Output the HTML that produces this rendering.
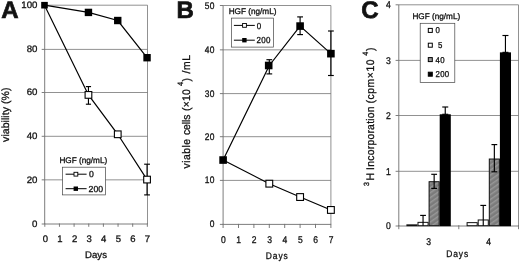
<!DOCTYPE html>
<html><head><meta charset="utf-8"><title>Figure</title>
<style>
html,body{margin:0;padding:0;background:#fff;}
body{width:520px;height:262px;overflow:hidden;}
#w{will-change:transform;width:520px;height:262px;}
svg{display:block;font-family:"Liberation Sans",sans-serif;fill:#000;text-rendering:geometricPrecision;}
svg text{fill:#111;}
</style></head><body>
<div id="w"><svg width="520" height="262" viewBox="0 0 520 262">
<rect width="520" height="262" fill="#fff"/>
<line x1="44.70" y1="179.85" x2="147.50" y2="179.85" stroke="#6c6c6c" stroke-width="0.75" />
<line x1="44.70" y1="136.30" x2="147.50" y2="136.30" stroke="#6c6c6c" stroke-width="0.75" />
<line x1="44.70" y1="92.50" x2="147.50" y2="92.50" stroke="#6c6c6c" stroke-width="0.75" />
<line x1="44.70" y1="49.40" x2="147.50" y2="49.40" stroke="#6c6c6c" stroke-width="0.75" />
<line x1="44.70" y1="5.20" x2="147.50" y2="5.20" stroke="#6c6c6c" stroke-width="0.75" />
<line x1="147.50" y1="5.20" x2="147.50" y2="224.00" stroke="#6c6c6c" stroke-width="0.75" />
<line x1="44.70" y1="5.20" x2="44.70" y2="224.00" stroke="#6e6e6e" stroke-width="0.9" />
<line x1="44.70" y1="224.00" x2="147.50" y2="224.00" stroke="#6e6e6e" stroke-width="0.9" />
<line x1="41.70" y1="224.00" x2="44.70" y2="224.00" stroke="#6e6e6e" stroke-width="0.9" />
<text transform="translate(37.40,226.90) scale(1.03,1)" font-size="9.4" text-anchor="end" font-weight="normal" letter-spacing="0" stroke="#111" stroke-width="0.3" >0</text>
<line x1="41.70" y1="179.85" x2="44.70" y2="179.85" stroke="#6e6e6e" stroke-width="0.9" />
<text transform="translate(37.40,182.75) scale(1.03,1)" font-size="9.4" text-anchor="end" font-weight="normal" letter-spacing="0" stroke="#111" stroke-width="0.3" >20</text>
<line x1="41.70" y1="136.30" x2="44.70" y2="136.30" stroke="#6e6e6e" stroke-width="0.9" />
<text transform="translate(37.40,139.20) scale(1.03,1)" font-size="9.4" text-anchor="end" font-weight="normal" letter-spacing="0" stroke="#111" stroke-width="0.3" >40</text>
<line x1="41.70" y1="92.50" x2="44.70" y2="92.50" stroke="#6e6e6e" stroke-width="0.9" />
<text transform="translate(37.40,95.40) scale(1.03,1)" font-size="9.4" text-anchor="end" font-weight="normal" letter-spacing="0" stroke="#111" stroke-width="0.3" >60</text>
<line x1="41.70" y1="49.40" x2="44.70" y2="49.40" stroke="#6e6e6e" stroke-width="0.9" />
<text transform="translate(37.40,52.30) scale(1.03,1)" font-size="9.4" text-anchor="end" font-weight="normal" letter-spacing="0" stroke="#111" stroke-width="0.3" >80</text>
<line x1="41.70" y1="5.20" x2="44.70" y2="5.20" stroke="#6e6e6e" stroke-width="0.9" />
<text transform="translate(37.40,8.10) scale(1.03,1)" font-size="9.4" text-anchor="end" font-weight="normal" letter-spacing="0" stroke="#111" stroke-width="0.3" >100</text>
<line x1="44.80" y1="223.50" x2="44.80" y2="226.80" stroke="#6e6e6e" stroke-width="0.9" />
<text transform="translate(45.40,241.60) scale(1.0,1)" font-size="9.5" text-anchor="middle" font-weight="normal" letter-spacing="0" stroke="#111" stroke-width="0.3" >0</text>
<line x1="59.45" y1="223.50" x2="59.45" y2="226.80" stroke="#6e6e6e" stroke-width="0.9" />
<text transform="translate(59.98,241.60) scale(1.0,1)" font-size="9.5" text-anchor="middle" font-weight="normal" letter-spacing="0" stroke="#111" stroke-width="0.3" >1</text>
<line x1="74.10" y1="223.50" x2="74.10" y2="226.80" stroke="#6e6e6e" stroke-width="0.9" />
<text transform="translate(74.56,241.60) scale(1.0,1)" font-size="9.5" text-anchor="middle" font-weight="normal" letter-spacing="0" stroke="#111" stroke-width="0.3" >2</text>
<line x1="88.75" y1="223.50" x2="88.75" y2="226.80" stroke="#6e6e6e" stroke-width="0.9" />
<text transform="translate(89.14,241.60) scale(1.0,1)" font-size="9.5" text-anchor="middle" font-weight="normal" letter-spacing="0" stroke="#111" stroke-width="0.3" >3</text>
<line x1="103.40" y1="223.50" x2="103.40" y2="226.80" stroke="#6e6e6e" stroke-width="0.9" />
<text transform="translate(103.72,241.60) scale(1.0,1)" font-size="9.5" text-anchor="middle" font-weight="normal" letter-spacing="0" stroke="#111" stroke-width="0.3" >4</text>
<line x1="118.05" y1="223.50" x2="118.05" y2="226.80" stroke="#6e6e6e" stroke-width="0.9" />
<text transform="translate(118.30,241.60) scale(1.0,1)" font-size="9.5" text-anchor="middle" font-weight="normal" letter-spacing="0" stroke="#111" stroke-width="0.3" >5</text>
<line x1="132.70" y1="223.50" x2="132.70" y2="226.80" stroke="#6e6e6e" stroke-width="0.9" />
<text transform="translate(132.88,241.60) scale(1.0,1)" font-size="9.5" text-anchor="middle" font-weight="normal" letter-spacing="0" stroke="#111" stroke-width="0.3" >6</text>
<line x1="147.35" y1="223.50" x2="147.35" y2="226.80" stroke="#6e6e6e" stroke-width="0.9" />
<text transform="translate(147.46,241.60) scale(1.0,1)" font-size="9.5" text-anchor="middle" font-weight="normal" letter-spacing="0" stroke="#111" stroke-width="0.3" >7</text>
<text transform="translate(96.00,258.20) scale(1.0,1)" font-size="9.6" text-anchor="middle" font-weight="normal" letter-spacing="0" stroke="#111" stroke-width="0.3" >Days</text>
<text transform="translate(9.20,141.90) rotate(-90) scale(1.0,1)" font-size="10.5" text-anchor="start" letter-spacing="0" textLength="54.30" lengthAdjust="spacing" stroke="#111" stroke-width="0.3">viability (%)</text>
<text transform="translate(1.20,18.00) scale(1.0,1)" font-size="24" text-anchor="start" font-weight="bold" letter-spacing="0" stroke="#111" stroke-width="0.7" >A</text>
<polyline fill="none" stroke="#000" stroke-width="1.2" points="44.50,5.20 88.45,12.42 117.75,20.52 147.05,57.71"/>
<polyline fill="none" stroke="#000" stroke-width="1.2" points="44.50,5.20 88.45,94.91 117.75,134.29 147.05,179.58"/>
<line x1="88.45" y1="86.60" x2="88.45" y2="104.20" stroke="#000" stroke-width="1.15" />
<line x1="85.85" y1="86.60" x2="91.05" y2="86.60" stroke="#000" stroke-width="1.15" />
<line x1="85.85" y1="104.20" x2="91.05" y2="104.20" stroke="#000" stroke-width="1.15" />
<line x1="147.05" y1="164.20" x2="147.05" y2="194.90" stroke="#000" stroke-width="1.15" />
<line x1="144.15" y1="164.20" x2="149.95" y2="164.20" stroke="#000" stroke-width="1.15" />
<line x1="144.15" y1="194.90" x2="149.95" y2="194.90" stroke="#000" stroke-width="1.15" />
<rect x="85.10" y="91.56" width="6.70" height="6.70" fill="#fff" stroke="#000" stroke-width="1.1" />
<rect x="114.40" y="130.94" width="6.70" height="6.70" fill="#fff" stroke="#000" stroke-width="1.1" />
<rect x="143.70" y="176.23" width="6.70" height="6.70" fill="#fff" stroke="#000" stroke-width="1.1" />
<rect x="41.20" y="1.90" width="6.60" height="6.60" fill="#000" stroke="none" stroke-width="1" />
<rect x="84.75" y="8.72" width="7.40" height="7.40" fill="#000" stroke="none" stroke-width="1" />
<rect x="114.05" y="16.82" width="7.40" height="7.40" fill="#000" stroke="none" stroke-width="1" />
<rect x="143.35" y="54.01" width="7.40" height="7.40" fill="#000" stroke="none" stroke-width="1" />
<text transform="translate(59.40,163.30) scale(1.0,1)" font-size="8.2" text-anchor="start" font-weight="normal" letter-spacing="0" stroke="#111" stroke-width="0.3" >HGF (ng/mL)</text>
<rect x="62.60" y="167.20" width="43.00" height="27.70" fill="#fff" stroke="#444" stroke-width="0.7" />
<line x1="65.60" y1="174.20" x2="86.60" y2="174.20" stroke="#000" stroke-width="1" />
<rect x="74.00" y="172.30" width="3.80" height="3.80" fill="#fff" stroke="#000" stroke-width="0.9" />
<text transform="translate(89.00,177.30) scale(1.0,1)" font-size="8.7" text-anchor="start" font-weight="normal" letter-spacing="0" stroke="#111" stroke-width="0.3" >0</text>
<line x1="65.60" y1="188.70" x2="86.60" y2="188.70" stroke="#000" stroke-width="1" />
<rect x="73.60" y="186.50" width="4.40" height="4.40" fill="#000" stroke="none" stroke-width="1" />
<text transform="translate(88.60,191.80) scale(1.0,1)" font-size="8.7" text-anchor="start" font-weight="normal" letter-spacing="0" stroke="#111" stroke-width="0.3" >200</text>
<line x1="223.10" y1="180.40" x2="330.90" y2="180.40" stroke="#6c6c6c" stroke-width="0.75" />
<line x1="223.10" y1="136.70" x2="330.90" y2="136.70" stroke="#6c6c6c" stroke-width="0.75" />
<line x1="223.10" y1="93.60" x2="330.90" y2="93.60" stroke="#6c6c6c" stroke-width="0.75" />
<line x1="223.10" y1="49.85" x2="330.90" y2="49.85" stroke="#6c6c6c" stroke-width="0.75" />
<line x1="223.10" y1="5.50" x2="330.90" y2="5.50" stroke="#6c6c6c" stroke-width="0.75" />
<line x1="330.90" y1="5.50" x2="330.90" y2="224.40" stroke="#6c6c6c" stroke-width="0.75" />
<line x1="223.10" y1="5.50" x2="223.10" y2="224.40" stroke="#6e6e6e" stroke-width="0.9" />
<line x1="223.10" y1="224.40" x2="330.90" y2="224.40" stroke="#6e6e6e" stroke-width="0.9" />
<line x1="219.90" y1="224.40" x2="223.10" y2="224.40" stroke="#6e6e6e" stroke-width="0.9" />
<text transform="translate(214.90,227.40) scale(0.88,1)" font-size="9.6" text-anchor="end" font-weight="normal" letter-spacing="0.4" stroke="#111" stroke-width="0.3" >0</text>
<line x1="219.90" y1="180.40" x2="223.10" y2="180.40" stroke="#6e6e6e" stroke-width="0.9" />
<text transform="translate(214.90,183.40) scale(0.88,1)" font-size="9.6" text-anchor="end" font-weight="normal" letter-spacing="0.4" stroke="#111" stroke-width="0.3" >10</text>
<line x1="219.90" y1="136.70" x2="223.10" y2="136.70" stroke="#6e6e6e" stroke-width="0.9" />
<text transform="translate(214.90,139.70) scale(0.88,1)" font-size="9.6" text-anchor="end" font-weight="normal" letter-spacing="0.4" stroke="#111" stroke-width="0.3" >20</text>
<line x1="219.90" y1="93.60" x2="223.10" y2="93.60" stroke="#6e6e6e" stroke-width="0.9" />
<text transform="translate(214.90,96.60) scale(0.88,1)" font-size="9.6" text-anchor="end" font-weight="normal" letter-spacing="0.4" stroke="#111" stroke-width="0.3" >30</text>
<line x1="219.90" y1="49.85" x2="223.10" y2="49.85" stroke="#6e6e6e" stroke-width="0.9" />
<text transform="translate(214.90,52.85) scale(0.88,1)" font-size="9.6" text-anchor="end" font-weight="normal" letter-spacing="0.4" stroke="#111" stroke-width="0.3" >40</text>
<line x1="219.90" y1="5.50" x2="223.10" y2="5.50" stroke="#6e6e6e" stroke-width="0.9" />
<text transform="translate(214.90,8.50) scale(0.88,1)" font-size="9.6" text-anchor="end" font-weight="normal" letter-spacing="0.4" stroke="#111" stroke-width="0.3" >50</text>
<line x1="223.10" y1="223.90" x2="223.10" y2="228.00" stroke="#6e6e6e" stroke-width="0.9" />
<text transform="translate(223.30,243.00) scale(0.88,1)" font-size="9.7" text-anchor="middle" font-weight="normal" letter-spacing="0" stroke="#111" stroke-width="0.3" >0</text>
<line x1="238.50" y1="223.90" x2="238.50" y2="228.00" stroke="#6e6e6e" stroke-width="0.9" />
<text transform="translate(238.70,243.00) scale(0.88,1)" font-size="9.7" text-anchor="middle" font-weight="normal" letter-spacing="0" stroke="#111" stroke-width="0.3" >1</text>
<line x1="253.90" y1="223.90" x2="253.90" y2="228.00" stroke="#6e6e6e" stroke-width="0.9" />
<text transform="translate(254.10,243.00) scale(0.88,1)" font-size="9.7" text-anchor="middle" font-weight="normal" letter-spacing="0" stroke="#111" stroke-width="0.3" >2</text>
<line x1="269.30" y1="223.90" x2="269.30" y2="228.00" stroke="#6e6e6e" stroke-width="0.9" />
<text transform="translate(269.50,243.00) scale(0.88,1)" font-size="9.7" text-anchor="middle" font-weight="normal" letter-spacing="0" stroke="#111" stroke-width="0.3" >3</text>
<line x1="284.70" y1="223.90" x2="284.70" y2="228.00" stroke="#6e6e6e" stroke-width="0.9" />
<text transform="translate(284.90,243.00) scale(0.88,1)" font-size="9.7" text-anchor="middle" font-weight="normal" letter-spacing="0" stroke="#111" stroke-width="0.3" >4</text>
<line x1="300.10" y1="223.90" x2="300.10" y2="228.00" stroke="#6e6e6e" stroke-width="0.9" />
<text transform="translate(300.30,243.00) scale(0.88,1)" font-size="9.7" text-anchor="middle" font-weight="normal" letter-spacing="0" stroke="#111" stroke-width="0.3" >5</text>
<line x1="315.50" y1="223.90" x2="315.50" y2="228.00" stroke="#6e6e6e" stroke-width="0.9" />
<text transform="translate(315.70,243.00) scale(0.88,1)" font-size="9.7" text-anchor="middle" font-weight="normal" letter-spacing="0" stroke="#111" stroke-width="0.3" >6</text>
<line x1="330.90" y1="223.90" x2="330.90" y2="228.00" stroke="#6e6e6e" stroke-width="0.9" />
<text transform="translate(331.10,243.00) scale(0.88,1)" font-size="9.7" text-anchor="middle" font-weight="normal" letter-spacing="0" stroke="#111" stroke-width="0.3" >7</text>
<text transform="translate(277.20,259.10) scale(0.88,1)" font-size="9.6" text-anchor="middle" font-weight="normal" letter-spacing="1.0" stroke="#111" stroke-width="0.3" >Days</text>
<text transform="translate(189.60,168.40) rotate(-90) scale(0.94,1)" font-size="11" text-anchor="start" textLength="31.28" lengthAdjust="spacing" stroke="#111" stroke-width="0.3">viable</text>
<text transform="translate(189.60,135.10) rotate(-90) scale(0.94,1)" font-size="11" text-anchor="start" textLength="21.91" lengthAdjust="spacing" stroke="#111" stroke-width="0.3">cells</text>
<text transform="translate(189.60,110.90) rotate(-90) scale(0.94,1)" font-size="11" text-anchor="start" textLength="22.98" lengthAdjust="spacing" stroke="#111" stroke-width="0.3">(×10</text>
<text transform="translate(183.40,86.10) rotate(-90) scale(0.94,1)" font-size="7.8" text-anchor="start"  stroke="#111" stroke-width="0.3">4</text>
<text transform="translate(189.60,81.40) rotate(-90) scale(0.94,1)" font-size="11" text-anchor="start"  stroke="#111" stroke-width="0.3">)</text>
<text transform="translate(189.60,73.50) rotate(-90) scale(0.94,1)" font-size="11" text-anchor="start" textLength="19.79" lengthAdjust="spacing" stroke="#111" stroke-width="0.3">/mL</text>
<text transform="translate(176.40,18.00) scale(1.0,1)" font-size="24" text-anchor="start" font-weight="bold" letter-spacing="0" stroke="#111" stroke-width="0.7" >B</text>
<polyline fill="none" stroke="#000" stroke-width="1.2" points="223.10,160.04 269.30,65.48 300.10,26.08 330.90,53.66"/>
<polyline fill="none" stroke="#000" stroke-width="1.2" points="223.10,160.04 269.30,183.68 300.10,197.04 330.90,209.95"/>
<line x1="269.30" y1="59.70" x2="269.30" y2="73.90" stroke="#000" stroke-width="1.15" />
<line x1="266.40" y1="59.70" x2="272.20" y2="59.70" stroke="#000" stroke-width="1.15" />
<line x1="266.40" y1="73.90" x2="272.20" y2="73.90" stroke="#000" stroke-width="1.15" />
<line x1="300.10" y1="16.90" x2="300.10" y2="34.60" stroke="#000" stroke-width="1.15" />
<line x1="297.20" y1="16.90" x2="303.00" y2="16.90" stroke="#000" stroke-width="1.15" />
<line x1="297.20" y1="34.60" x2="303.00" y2="34.60" stroke="#000" stroke-width="1.15" />
<line x1="330.90" y1="31.00" x2="330.90" y2="75.50" stroke="#000" stroke-width="1.15" />
<line x1="328.00" y1="31.00" x2="333.80" y2="31.00" stroke="#000" stroke-width="1.15" />
<line x1="328.00" y1="75.50" x2="333.80" y2="75.50" stroke="#000" stroke-width="1.15" />
<rect x="265.90" y="180.28" width="6.80" height="6.80" fill="#fff" stroke="#000" stroke-width="1.1" />
<rect x="296.70" y="193.64" width="6.80" height="6.80" fill="#fff" stroke="#000" stroke-width="1.1" />
<rect x="327.50" y="206.55" width="6.80" height="6.80" fill="#fff" stroke="#000" stroke-width="1.1" />
<rect x="219.30" y="156.24" width="7.60" height="7.60" fill="#000" stroke="none" stroke-width="1" />
<rect x="264.90" y="61.68" width="7.60" height="7.60" fill="#000" stroke="none" stroke-width="1" />
<rect x="296.30" y="22.28" width="7.60" height="7.60" fill="#000" stroke="none" stroke-width="1" />
<rect x="327.10" y="49.86" width="7.60" height="7.60" fill="#000" stroke="none" stroke-width="1" />
<text transform="translate(228.70,13.90) scale(1.0,1)" font-size="8.2" text-anchor="start" font-weight="normal" letter-spacing="0" stroke="#111" stroke-width="0.3" >HGF (ng/mL)</text>
<rect x="231.40" y="18.10" width="42.00" height="29.00" fill="#fff" stroke="#444" stroke-width="0.7" />
<line x1="233.90" y1="25.40" x2="254.80" y2="25.40" stroke="#000" stroke-width="1" />
<rect x="242.60" y="23.50" width="3.80" height="3.80" fill="#fff" stroke="#000" stroke-width="0.9" />
<text transform="translate(256.80,28.50) scale(0.92,1)" font-size="8.7" text-anchor="start" font-weight="normal" letter-spacing="0" stroke="#111" stroke-width="0.3" >0</text>
<line x1="233.90" y1="40.20" x2="254.80" y2="40.20" stroke="#000" stroke-width="1" />
<rect x="242.20" y="38.00" width="4.40" height="4.40" fill="#000" stroke="none" stroke-width="1" />
<text transform="translate(256.60,43.30) scale(0.92,1)" font-size="8.7" text-anchor="start" font-weight="normal" letter-spacing="0.3" stroke="#111" stroke-width="0.3" >200</text>
<line x1="398.80" y1="171.30" x2="518.50" y2="171.30" stroke="#6c6c6c" stroke-width="0.75" />
<line x1="398.80" y1="115.50" x2="518.50" y2="115.50" stroke="#6c6c6c" stroke-width="0.75" />
<line x1="398.80" y1="60.40" x2="518.50" y2="60.40" stroke="#6c6c6c" stroke-width="0.75" />
<line x1="398.80" y1="4.80" x2="518.50" y2="4.80" stroke="#6c6c6c" stroke-width="0.75" />
<line x1="518.50" y1="4.80" x2="518.50" y2="226.00" stroke="#6c6c6c" stroke-width="0.75" />
<line x1="398.80" y1="4.80" x2="398.80" y2="226.00" stroke="#6e6e6e" stroke-width="0.9" />
<line x1="398.80" y1="226.00" x2="518.50" y2="226.00" stroke="#6e6e6e" stroke-width="0.9" />
<line x1="395.60" y1="226.00" x2="398.80" y2="226.00" stroke="#6e6e6e" stroke-width="0.9" />
<text transform="translate(390.80,229.20) scale(0.88,1)" font-size="9.8" text-anchor="end" font-weight="normal" letter-spacing="0" stroke="#111" stroke-width="0.3" >0</text>
<line x1="395.60" y1="171.30" x2="398.80" y2="171.30" stroke="#6e6e6e" stroke-width="0.9" />
<text transform="translate(390.80,174.50) scale(0.88,1)" font-size="9.8" text-anchor="end" font-weight="normal" letter-spacing="0" stroke="#111" stroke-width="0.3" >1</text>
<line x1="395.60" y1="115.50" x2="398.80" y2="115.50" stroke="#6e6e6e" stroke-width="0.9" />
<text transform="translate(390.80,118.70) scale(0.88,1)" font-size="9.8" text-anchor="end" font-weight="normal" letter-spacing="0" stroke="#111" stroke-width="0.3" >2</text>
<line x1="395.60" y1="60.40" x2="398.80" y2="60.40" stroke="#6e6e6e" stroke-width="0.9" />
<text transform="translate(390.80,63.60) scale(0.88,1)" font-size="9.8" text-anchor="end" font-weight="normal" letter-spacing="0" stroke="#111" stroke-width="0.3" >3</text>
<line x1="395.60" y1="4.80" x2="398.80" y2="4.80" stroke="#6e6e6e" stroke-width="0.9" />
<text transform="translate(390.80,8.00) scale(0.88,1)" font-size="9.8" text-anchor="end" font-weight="normal" letter-spacing="0" stroke="#111" stroke-width="0.3" >4</text>
<line x1="398.80" y1="225.20" x2="398.80" y2="229.20" stroke="#6e6e6e" stroke-width="0.9" />
<line x1="458.80" y1="225.20" x2="458.80" y2="229.20" stroke="#6e6e6e" stroke-width="0.9" />
<line x1="518.50" y1="225.20" x2="518.50" y2="229.20" stroke="#6e6e6e" stroke-width="0.9" />
<text transform="translate(428.50,244.50) scale(0.88,1)" font-size="9.7" text-anchor="middle" font-weight="normal" letter-spacing="0" stroke="#111" stroke-width="0.3" >3</text>
<text transform="translate(488.50,244.50) scale(0.88,1)" font-size="9.7" text-anchor="middle" font-weight="normal" letter-spacing="0" stroke="#111" stroke-width="0.3" >4</text>
<text transform="translate(457.60,257.40) scale(0.88,1)" font-size="9.6" text-anchor="middle" font-weight="normal" letter-spacing="1.0" stroke="#111" stroke-width="0.3" >Days</text>
<text transform="translate(368.50,185.90) rotate(-90) scale(0.94,1)" font-size="7.5" text-anchor="start"  stroke="#111" stroke-width="0.3">3</text>
<text transform="translate(374.00,180.40) rotate(-90) scale(0.94,1)" font-size="11" text-anchor="start"  stroke="#111" stroke-width="0.3">H</text>
<text transform="translate(374.00,169.90) rotate(-90) scale(0.94,1)" font-size="11" text-anchor="start" textLength="67.55" lengthAdjust="spacing" stroke="#111" stroke-width="0.3">Incorporation</text>
<text transform="translate(374.00,103.50) rotate(-90) scale(0.94,1)" font-size="11" text-anchor="start" textLength="46.81" lengthAdjust="spacing" stroke="#111" stroke-width="0.3">(cpm×10</text>
<text transform="translate(367.80,55.80) rotate(-90) scale(0.94,1)" font-size="7.8" text-anchor="start"  stroke="#111" stroke-width="0.3">4</text>
<text transform="translate(374.00,50.90) rotate(-90) scale(0.94,1)" font-size="11" text-anchor="start"  stroke="#111" stroke-width="0.3">)</text>
<text transform="translate(361.15,18.35) scale(1.0,1)" font-size="24" text-anchor="start" font-weight="bold" letter-spacing="0" stroke="#111" stroke-width="0.7" >C</text>
<defs><pattern id="hat" width="4" height="4" patternUnits="userSpaceOnUse" patternTransform="rotate(-35)"><rect width="4" height="4" fill="#7b7b7b"/><rect width="4" height="1.4" fill="#989898"/></pattern></defs>
<rect x="406.90" y="224.84" width="10.10" height="0.86" fill="#fff" stroke="#111" stroke-width="1" />
<rect x="418.00" y="222.35" width="10.10" height="3.35" fill="#fff" stroke="#111" stroke-width="1" />
<line x1="423.05" y1="215.40" x2="423.05" y2="225.70" stroke="#000" stroke-width="1.15" />
<line x1="420.15" y1="215.40" x2="425.95" y2="215.40" stroke="#000" stroke-width="1.15" />
<rect x="429.10" y="181.71" width="10.10" height="43.99" fill="url(#hat)" stroke="#111" stroke-width="1" />
<line x1="434.15" y1="174.30" x2="434.15" y2="188.40" stroke="#000" stroke-width="1.15" />
<line x1="431.25" y1="174.30" x2="437.05" y2="174.30" stroke="#000" stroke-width="1.15" />
<line x1="431.25" y1="188.40" x2="437.05" y2="188.40" stroke="#000" stroke-width="1.15" />
<line x1="445.25" y1="107.00" x2="445.25" y2="114.29" stroke="#000" stroke-width="1.15" />
<line x1="442.25" y1="107.00" x2="448.25" y2="107.00" stroke="#000" stroke-width="1.15" />
<line x1="442.25" y1="114.29" x2="448.25" y2="114.29" stroke="#000" stroke-width="1.15" />
<rect x="439.70" y="114.29" width="11.10" height="111.91" fill="#000" stroke="none" stroke-width="1" />
<rect x="467.10" y="222.63" width="10.10" height="3.07" fill="#fff" stroke="#111" stroke-width="1" />
<rect x="478.20" y="219.97" width="10.10" height="5.73" fill="#fff" stroke="#111" stroke-width="1" />
<line x1="483.25" y1="205.40" x2="483.25" y2="225.70" stroke="#000" stroke-width="1.15" />
<line x1="480.35" y1="205.40" x2="486.15" y2="205.40" stroke="#000" stroke-width="1.15" />
<rect x="489.30" y="159.03" width="10.10" height="66.67" fill="url(#hat)" stroke="#111" stroke-width="1" />
<line x1="494.35" y1="144.60" x2="494.35" y2="171.80" stroke="#000" stroke-width="1.15" />
<line x1="491.45" y1="144.60" x2="497.25" y2="144.60" stroke="#000" stroke-width="1.15" />
<line x1="491.45" y1="171.80" x2="497.25" y2="171.80" stroke="#000" stroke-width="1.15" />
<line x1="505.45" y1="35.50" x2="505.45" y2="52.36" stroke="#000" stroke-width="1.15" />
<line x1="502.45" y1="35.50" x2="508.45" y2="35.50" stroke="#000" stroke-width="1.15" />
<line x1="502.45" y1="52.36" x2="508.45" y2="52.36" stroke="#000" stroke-width="1.15" />
<rect x="499.90" y="52.36" width="11.10" height="173.84" fill="#000" stroke="none" stroke-width="1" />
<text transform="translate(412.40,19.20) scale(1.0,1)" font-size="8.2" text-anchor="start" font-weight="normal" letter-spacing="0" stroke="#111" stroke-width="0.3" >HGF (ng/mL)</text>
<rect x="420.20" y="23.30" width="34.60" height="59.20" fill="#fff" stroke="#444" stroke-width="0.7" />
<rect x="428.30" y="28.40" width="4.00" height="4.00" fill="#fff" stroke="#000" stroke-width="1.0" />
<text transform="translate(435.60,33.30) scale(0.92,1)" font-size="8.5" text-anchor="start" font-weight="normal" letter-spacing="0.3" stroke="#111" stroke-width="0.3" style="white-space:pre">0</text>
<rect x="428.30" y="43.20" width="4.00" height="4.00" fill="#fff" stroke="#000" stroke-width="1.0" />
<text transform="translate(435.60,48.10) scale(0.92,1)" font-size="8.5" text-anchor="start" font-weight="normal" letter-spacing="0.3" stroke="#111" stroke-width="0.3" style="white-space:pre"> 5</text>
<rect x="428.30" y="57.60" width="4.00" height="4.00" fill="#999" stroke="#000" stroke-width="1.0" />
<text transform="translate(435.60,62.50) scale(0.92,1)" font-size="8.5" text-anchor="start" font-weight="normal" letter-spacing="0.3" stroke="#111" stroke-width="0.3" style="white-space:pre">40</text>
<rect x="428.30" y="72.20" width="4.00" height="4.00" fill="#000" stroke="#000" stroke-width="1.0" />
<text transform="translate(435.60,77.10) scale(0.92,1)" font-size="8.5" text-anchor="start" font-weight="normal" letter-spacing="0.3" stroke="#111" stroke-width="0.3" style="white-space:pre">200</text>
</svg></div>
</body></html>
